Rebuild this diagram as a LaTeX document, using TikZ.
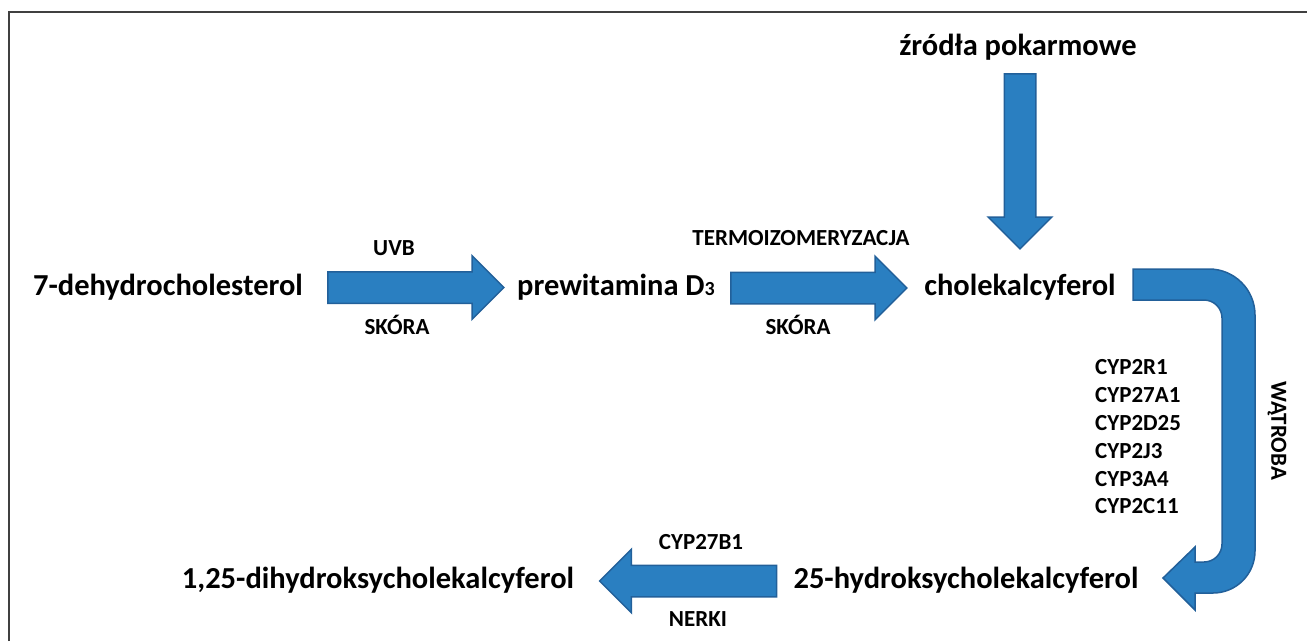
\documentclass[tikz,border=0pt]{standalone}
\usepackage{fontspec}
\setmainfont{Carlito}
\usetikzlibrary{shapes.arrows}
\definecolor{Blok}{HTML}{2A7FC1}
\definecolor{BlokEdge}{HTML}{22609A}
\definecolor{Frame}{HTML}{404040}

\begin{document}
\begin{tikzpicture}[x=1pt,y=-1pt,
 compound/.style={inner sep=0pt,font=\bfseries\fontsize{30.5}{36}\selectfont},
 tag/.style={inner sep=0pt,font=\bfseries\fontsize{23}{27.8}\selectfont},
 blok/.style={single arrow,draw=BlokEdge,fill=Blok,line width=1.5pt,
   inner xsep=0pt,inner ysep=15pt,single arrow head extend=16pt,
   single arrow tip angle=90},
 uturn/.style={draw=BlokEdge,fill=Blok,line width=1.5pt}]
\useasboundingbox (0,0) rectangle (1307,641);
\draw[Frame,line width=1.5pt] (9,641) -- (9,12) -- (1307,12);
% compounds
\node[compound] (dhc) at (168,287) {7-dehydrocholesterol};
\node[compound] (prew) at (616,287) {prewitamina D{\fontsize{20}{20}\selectfont 3}};
\node[compound] (chol) at (1020,287) {cholekalcyferol};
\node[compound] (diet) at (1018,47) {źródła pokarmowe};
\node[compound] (hydro) at (966,580) {25-hydroksycholekalcyferol};
\node[compound] (dihydro) at (378,580) {1,25-dihydroksycholekalcyferol};
% block arrows
\node[blok,minimum height=176pt] (uvbarrow) at (408,287.5) {};
\node[blok,minimum height=176pt] (termarrow) at (811,288) {};
\node[blok,minimum height=175pt,rotate=-90] (dietarrow) at (1020,153.5) {};
\node[blok,minimum height=177pt,rotate=180] (kidarrow) at (696,581) {};
\filldraw[uturn] (1133,269) -- (1209,269) .. controls (1234.4,269) and (1255,289.6) .. (1255,315)
  -- (1255,551) .. controls (1255,574.2) and (1236.2,593) .. (1213,593)
  -- (1195,593) -- (1195,610) -- (1163,578) -- (1195,547) -- (1195,562)
  -- (1204,562) .. controls (1213.9,562) and (1222,553.9) .. (1222,544)
  -- (1222,318) .. controls (1222,308.1) and (1213.9,300) .. (1204,300)
  -- (1133,300) -- cycle;
% labels
\node[tag] (uvb) at (394,248) {UVB};
\node[tag] (skin1) at (397,325) {SKÓRA};
\node[tag] (termo) at (801,238) {TERMOIZOMERYZACJA};
\node[tag] (skin2) at (798,325) {SKÓRA};
\node[tag,align=left,anchor=west] (cyp) at (1095,437) {CYP2R1\\CYP27A1\\CYP2D25\\CYP2J3\\CYP3A4\\CYP2C11};
\node[tag,rotate=-90] (liver) at (1277,431) {WĄTROBA};
\node[tag] (cyp27b1) at (701,542) {CYP27B1};
\node[tag] (kidney) at (698,619) {NERKI};
\end{tikzpicture}
\end{document}
